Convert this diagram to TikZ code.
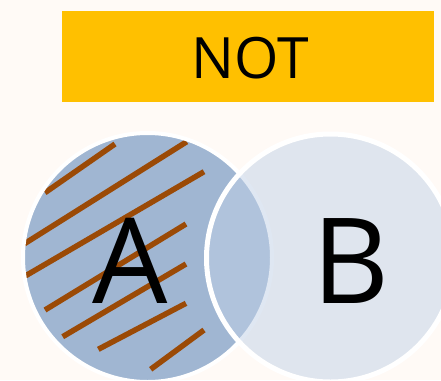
\documentclass[tikz,border=0pt]{standalone}
\usepackage{fontspec}
\setmainfont{Open Sans}
\definecolor{bgc}{RGB}{255,250,246}
\definecolor{gold}{RGB}{255,192,0}
\definecolor{afill}{RGB}{160,182,210}
\definecolor{bfill}{RGB}{193,209,231}
\definecolor{stripe}{RGB}{155,74,6}
\begin{document}
\begin{tikzpicture}[x=1pt,y=-1pt,
  stripeline/.style={draw=stripe,line width=5.5pt},
  bigletter/.style={font=\fontsize{119}{119}\selectfont,anchor=base,inner sep=0pt}]
\useasboundingbox[fill=bgc] (0,0) rectangle (441,380);
\node[fill=gold,minimum width=372pt,minimum height=91pt,inner sep=0pt,anchor=north west] (box) at (62,11) {};
\node[font=\fontsize{57}{57}\selectfont,anchor=base,inner sep=0pt] (not) at (250,78) {NOT};
% circle A
\fill[afill] (147.5,257.5) circle[radius=124.5];
\draw[stripeline] (45,192.7) -- (115,144);
\draw[stripeline] (24,244) -- (186.7,141.7);
\draw[stripeline] (24,276.7) -- (204,171.7);
\draw[stripeline] (45,310) -- (186,224);
\draw[stripeline] (62.7,336.7) -- (186,264);
\draw[stripeline] (98.3,349.3) -- (186,303.3);
\draw[stripeline] (150.7,369.3) -- (204,330);
\draw[white,line width=4pt] (147.5,257.5) circle[radius=124.5];
% circle B
\fill[bfill,fill opacity=0.5] (330.5,258) circle[radius=124];
\draw[white,line width=5pt] (330.5,258) circle[radius=124];
\node[bigletter] (la) at (130,303) {A};
\node[bigletter] (lb) at (351,303) {B};
\end{tikzpicture}
\end{document}
